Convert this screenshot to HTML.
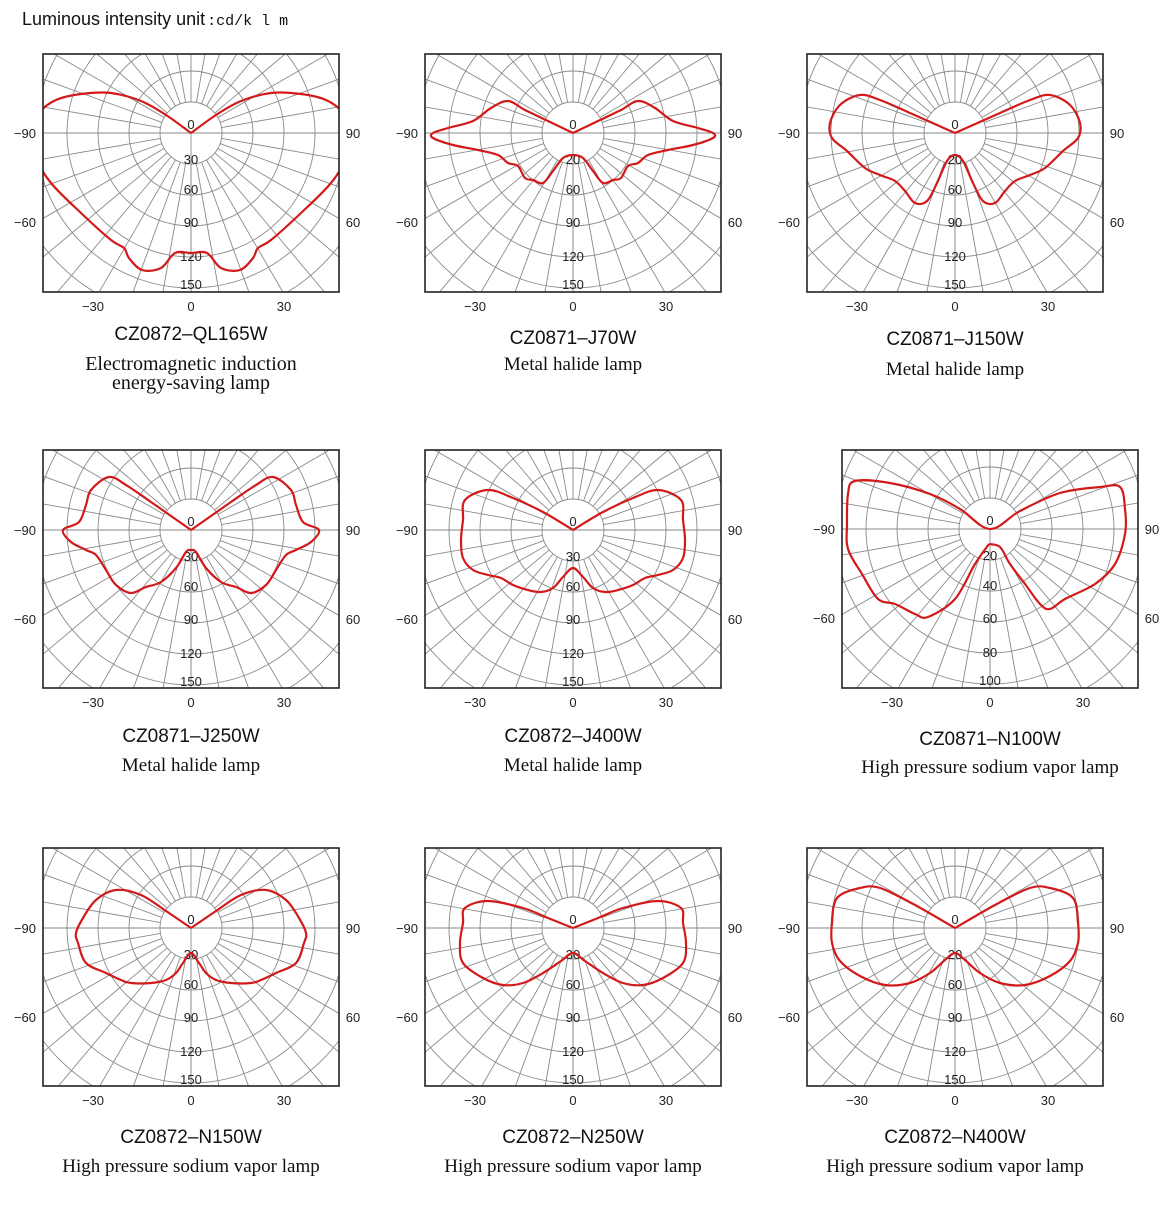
<!DOCTYPE html>
<html><head><meta charset="utf-8"><style>
html,body{margin:0;padding:0;background:#fff;width:1170px;height:1205px;overflow:hidden;}
svg{display:block;}
svg text{font-family:"Liberation Sans",sans-serif;}
</style></head><body>
<svg id="s" width="1170" height="1205" viewBox="0 0 1170 1205" xmlns="http://www.w3.org/2000/svg">
<text x="22" y="25" font-size="18" fill="#111">Luminous intensity unit<tspan font-family="Liberation Mono" font-size="15" dx="2">:cd/k l m</tspan></text>
</svg>
<script>
const S=document.getElementById('s');const NS='http://www.w3.org/2000/svg';
function el(t,a,p){const e=document.createElementNS(NS,t);for(const k in a)e.setAttribute(k,a[k]);(p||S).appendChild(e);return e;}
function txt(x,y,s,a,p){const e=el('text',Object.assign({x:x,y:y},a),p);e.textContent=s;return e;}
function cr(pts){let d='M'+pts[0][0]+','+pts[0][1];for(let i=0;i<pts.length-1;i++){const p0=pts[Math.max(0,i-1)],p1=pts[i],p2=pts[i+1],p3=pts[Math.min(pts.length-1,i+2)];d+=' C'+(p1[0]+(p2[0]-p0[0])/6).toFixed(1)+','+(p1[1]+(p2[1]-p0[1])/6).toFixed(1)+' '+(p2[0]-(p3[0]-p1[0])/6).toFixed(1)+','+(p2[1]-(p3[1]-p1[1])/6).toFixed(1)+' '+p2[0]+','+p2[1];}return d;}
function sym(h){const r=h.map(p=>[p[0],p[1]]);const l=h.slice().reverse().map(p=>[-p[0],p[1]]);return l.concat(r.slice(1));}
const charts=[
{bx:43,by:54,cx:191,cy:133,ty:340,sy:370,t:'CZ0872–QL165W',s:['Electromagnetic induction','energy-saving lamp'],lab:['0','30','60','90','120','150'],
 pts:sym([[0,120],[16,120],[30,135],[49,137],[62,125],[67,115],[80,107],[110,80],[140,50],[155,25],[160,0],[152,-20],[135,-33],[110,-39],[80,-40],[50,-32],[25,-18],[0,0]])},
{bx:425,by:54,cx:573,cy:133,ty:344,sy:370,t:'CZ0871–J70W',s:['Metal halide lamp'],lab:['0','20','60','90','120','150'],
 pts:sym([[0,22],[10,25],[20,38],[30,50],[40,47],[48,45],[55,33],[65,30],[75,22],[95,17],[120,12],[140,5],[140,0],[125,-5],[100,-12],[82,-25],[65,-32],[48,-23],[25,-12],[0,0]])},
{bx:807,by:54,cx:955,cy:133,ty:345,sy:375,t:'CZ0871–J150W',s:['Metal halide lamp'],lab:['0','20','60','90','120','150'],
 pts:sym([[0,22],[8,28],[18,50],[28,68],[40,70],[50,58],[60,48],[75,42],[90,35],[108,18],[123,5],[125,-10],[115,-28],[95,-38],[75,-33],[45,-20],[0,0]])},
{bx:43,by:450,cx:191,cy:530,ty:742,sy:771,t:'CZ0871–J250W',s:['Metal halide lamp'],lab:['0','30','60','90','120','150'],
 pts:sym([[0,20],[5,22],[15,38],[30,52],[45,57],[60,63],[75,55],[85,40],[95,25],[105,20],[120,12],[128,0],[112,-8],[105,-25],[100,-40],[82,-53],[65,-45],[40,-28],[0,0]])},
{bx:425,by:450,cx:573,cy:530,ty:742,sy:771,t:'CZ0872–J400W',s:['Metal halide lamp'],lab:['0','30','60','90','120','150'],
 pts:sym([[0,38],[10,47],[20,58],[32,62],[45,60],[60,55],[72,48],[85,45],[100,40],[110,28],[112,10],[110,-10],[108,-30],[85,-40],[60,-32],[30,-18],[0,0]])},
{bx:842,by:450,cx:990,cy:529,ty:745,sy:773,t:'CZ0871–N100W',s:['High pressure sodium vapor lamp'],lab:['0','20','40','60','80','100'],
 pts:[[-1,15],[-15,35],[-35,70],[-62,88],[-75,85],[-95,75],[-112,70],[-128,45],[-142,20],[-143,-5],[-142,-35],[-135,-48],[-100,-46],[-60,-35],[-30,-20],[0,0],[30,-18],[70,-36],[110,-42],[130,-42],[135,-20],[135,5],[125,35],[105,55],[75,70],[60,80],[50,75],[35,55],[20,35],[10,18],[-1,15]]},
{bx:43,by:848,cx:191,cy:928,ty:1143,sy:1172,t:'CZ0872–N150W',s:['High pressure sodium vapor lamp'],lab:['0','30','60','90','120','150'],
 pts:sym([[0,25],[8,35],[15,45],[25,52],[40,55],[60,55],[70,52],[85,45],[105,35],[113,15],[115,5],[108,-10],[95,-28],[75,-38],[50,-33],[25,-17],[0,0]])},
{bx:425,by:848,cx:573,cy:928,ty:1143,sy:1172,t:'CZ0872–N250W',s:['High pressure sodium vapor lamp'],lab:['0','30','60','90','120','150'],
 pts:sym([[0,25],[12,33],[30,45],[50,55],[70,57],[90,50],[110,35],[113,15],[110,-5],[108,-20],[85,-27],[50,-20],[25,-10],[0,0]])},
{bx:807,by:848,cx:955,cy:928,ty:1143,sy:1172,t:'CZ0872–N400W',s:['High pressure sodium vapor lamp'],lab:['0','20','60','90','120','150'],
 pts:sym([[0,25],[10,32],[25,45],[45,55],[70,57],[95,48],[115,33],[123,15],[123,-5],[118,-30],[95,-40],[75,-40],[40,-23],[0,0]])}
];
let id=0;
for(const c of charts){
 const W=296,H=238;id++;
 const cp=el('clipPath',{id:'c'+id});el('rect',{x:c.bx,y:c.by,width:W,height:H},cp);
 const g=el('g',{'clip-path':'url(#c'+id+')'});
 for(let k=1;k<=9;k++)el('circle',{cx:c.cx,cy:c.cy,r:31*k,fill:'none',stroke:'#8a8a8a','stroke-width':0.9},g);
 for(let a=0;a<360;a+=10){const r=a*Math.PI/180;el('line',{x1:c.cx+31*Math.cos(r),y1:c.cy+31*Math.sin(r),x2:c.cx+400*Math.cos(r),y2:c.cy+400*Math.sin(r),stroke:'#8a8a8a','stroke-width':0.9},g);}
 el('line',{x1:c.bx,y1:c.cy,x2:c.bx+W,y2:c.cy,stroke:'#8a8a8a','stroke-width':0.9},g);
 el('line',{x1:c.cx,y1:c.cy,x2:c.cx,y2:c.by+H,stroke:'#8a8a8a','stroke-width':0.9},g);
 const offs=[-4,31,61,94,128,156];
 c.lab.forEach((l,i)=>{txt(c.cx,c.cy+offs[i],l,{'font-size':13,'text-anchor':'middle',fill:'#222'},g);});
 el('path',{d:cr(c.pts.map(p=>[c.cx+p[0],c.cy+p[1]])),fill:'none',stroke:'#d21a1a','stroke-width':2.2,'stroke-linejoin':'round'},g);
 el('rect',{x:c.bx,y:c.by,width:W,height:H,fill:'none',stroke:'#222','stroke-width':1.6});
 txt(c.bx-18,c.cy+5,'−90',{'font-size':13,'text-anchor':'middle',fill:'#222'});
 txt(c.bx+W+14,c.cy+5,'90',{'font-size':13,'text-anchor':'middle',fill:'#222'});
 txt(c.bx-18,c.cy+94,'−60',{'font-size':13,'text-anchor':'middle',fill:'#222'});
 txt(c.bx+W+14,c.cy+94,'60',{'font-size':13,'text-anchor':'middle',fill:'#222'});
 const yb=c.by+H+19;
 txt(c.cx-98,yb,'−30',{'font-size':13,'text-anchor':'middle',fill:'#222'});
 txt(c.cx,yb,'0',{'font-size':13,'text-anchor':'middle',fill:'#222'});
 txt(c.cx+93,yb,'30',{'font-size':13,'text-anchor':'middle',fill:'#222'});
 const tx=c.bx+W/2;
 txt(tx,c.ty,c.t,{'font-size':19,'text-anchor':'middle',fill:'#111'});
 const fs=id==1?20:19;
 c.s.forEach((s,i)=>{const e=txt(tx,c.sy+i*19,s,{'font-size':fs,'text-anchor':'middle',fill:'#111'});e.setAttribute('style','font-family:"Liberation Serif",serif');});
}
</script>
</body></html>
